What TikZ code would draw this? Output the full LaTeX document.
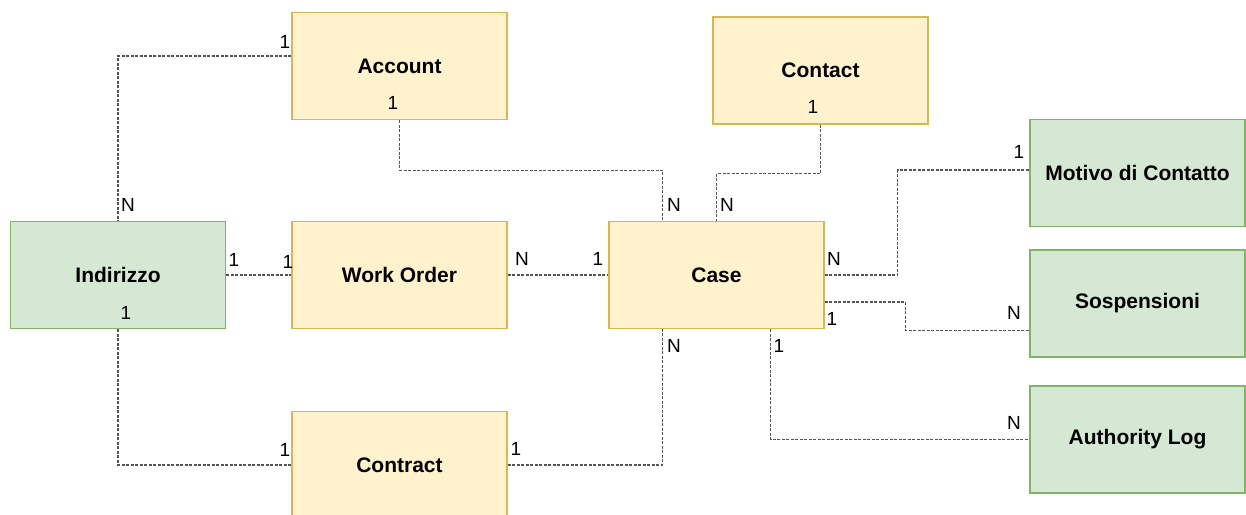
\documentclass[tikz,border=0pt]{standalone}
\usepackage{fontspec}
\setmainfont{Liberation Sans}
\usepackage{xcolor}
\usepackage{tikz}
\usetikzlibrary{calc}
\definecolor{yfill}{HTML}{FFF2CC}
\definecolor{ydraw}{HTML}{D6B656}
\definecolor{gfill}{HTML}{D5E8D4}
\definecolor{gdraw}{HTML}{82B366}
\definecolor{linkc}{HTML}{555555}
\tikzset{
  entity/.style={draw, line width=1.5pt, minimum width=215pt, minimum height=107pt,
    font=\fontsize{21}{24}\selectfont\bfseries},
  yent/.style={entity, fill=yfill, draw=ydraw},
  gent/.style={entity, fill=gfill, draw=gdraw},
  rel/.style={draw=linkc, line width=1.1pt, dash pattern=on 3pt off 1.5pt},
  card/.style={font=\fontsize{19}{21}\selectfont, inner sep=0pt}
}

\begin{document}
\begin{tikzpicture}[x=1pt,y=-1pt]
  \useasboundingbox (0,0) rectangle (1246,514);

  % entities
  \node[yent] (account) at (399.5,66) {Account};
  \node[yent] (contact) at (820.5,70.5) {Contact};
  \node[gent] (motivo) at (1137.5,173) {Motivo di Contatto};
  \node[gent] (indirizzo) at (118,275) {Indirizzo};
  \node[yent] (workorder) at (399.5,275) {Work Order};
  \node[yent] (case) at (716.5,275) {Case};
  \node[gent] (sosp) at (1137.5,303.5) {Sospensioni};
  \node[gent] (authlog) at (1137.5,439.5) {Authority Log};
  \node[yent] (contract) at (399.5,465) {Contract};

  % relations
  \draw[rel] ([yshift=10pt]account.west) -| (indirizzo.north);
  \draw[rel] (account.south) -- ++(0,50) -| ([xshift=-54pt]case.north);
  \draw[rel] (contact.south) -- ++(0,49) -| (case.north);
  \draw[rel] (indirizzo.east) -- (workorder.west);
  \draw[rel] (workorder.east) -- (case.west);
  \draw[rel] (case.east) -- ++(73,0) |- ([yshift=3pt]motivo.west);
  \draw[rel] ([yshift=-27pt]case.east) -- ++(81,0) |- ([yshift=-27pt]sosp.west);
  \draw[rel] ([xshift=54pt]case.south) |- (authlog.west);
  \draw[rel] (contract.east) -| ([xshift=-54pt]case.south);
  \draw[rel] (indirizzo.south) |- (contract.west);

  % cardinalities
  \node[card] at (285,42) {1};
  \node[card] at (393,103) {1};
  \node[card] at (128,205) {N};
  \node[card] at (126,313) {1};
  \node[card] at (234,260) {1};
  \node[card] at (288,262) {1};
  \node[card] at (522,259) {N};
  \node[card] at (598,259) {1};
  \node[card] at (674,205) {N};
  \node[card] at (727,205) {N};
  \node[card] at (813,107) {1};
  \node[card] at (1019,152) {1};
  \node[card] at (834,259) {N};
  \node[card] at (832,319) {1};
  \node[card] at (1014,313) {N};
  \node[card] at (779,346) {1};
  \node[card] at (674,346) {N};
  \node[card] at (1014,423) {N};
  \node[card] at (285,450) {1};
  \node[card] at (516,449) {1};
\end{tikzpicture}
\end{document}
